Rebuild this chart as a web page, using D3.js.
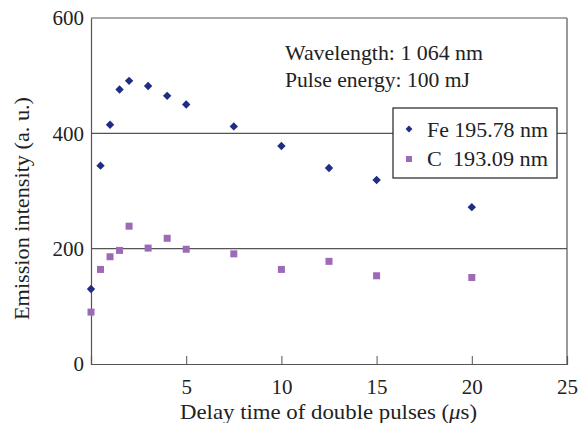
<!DOCTYPE html>
<html>
<head>
<meta charset="utf-8">
<script src="https://cdn.jsdelivr.net/npm/d3@7"></script>
<style>
  body { margin: 0; background: #fff; }
</style>
</head>
<body>
<div class="container"></div>
<script>
// chart data
const delays = [0, 0.5, 1, 1.5, 2, 3, 4, 5, 7.5, 10, 12.5, 15, 20];
const feValues = [130, 344, 415, 476, 491, 482, 465, 450, 412, 378, 340, 319, 272];
const cValues = [90, 164, 186, 197, 239, 201, 218, 199, 191, 164, 178, 153, 150];
const xTicks = [5, 10, 15, 20, 25];
const yTicks = [0, 200, 400, 600];
const seriesNames = ["Fe 195.78 nm", "C\u00a0\u00a0193.09 nm"];

const width = 580;
const height = 423;
const margin = { top: 18, right: 13, bottom: 59, left: 91 };
const serif = '"Liberation Serif"';
const ink = "#222";

const svg = d3.select(".container")
  .append("svg")
  .attr("width", width)
  .attr("height", height);

const xScale = d3.scaleLinear()
  .domain([0, 25])
  .range([margin.left, width - margin.right]);

const yScale = d3.scaleLinear()
  .domain([0, 600])
  .range([height - margin.bottom, margin.top]);

// grid lines at 200, 400, 600
svg.append("g")
  .selectAll("line")
  .data(yTicks.filter(d => d > 0))
  .join("line")
  .attr("x1", xScale(0))
  .attr("x2", xScale(25))
  .attr("y1", d => yScale(d))
  .attr("y2", d => yScale(d))
  .attr("stroke", "#555")
  .attr("stroke-width", 1.2);

// right border
svg.append("line")
  .attr("x1", xScale(25)).attr("x2", xScale(25))
  .attr("y1", yScale(600)).attr("y2", yScale(0))
  .attr("stroke", "#555")
  .attr("stroke-width", 1.2);

// x axis, ticks pointing up into the plot
const xAxis = svg.append("g")
  .attr("transform", `translate(0, ${yScale(0)})`)
  .call(d3.axisBottom(xScale).tickValues(xTicks).tickSize(-8).tickPadding(15));
xAxis.attr("font-family", null).attr("font-size", null);
xAxis.select(".domain").attr("stroke", "#555").attr("stroke-width", 1.2);
xAxis.selectAll(".tick line").attr("stroke", "#555");
xAxis.selectAll(".tick text")
  .style("font-family", serif)
  .style("font-size", "21px")
  .attr("fill", ink);

// y axis, labels only
const yAxis = svg.append("g")
  .attr("transform", `translate(${xScale(0)}, 0)`)
  .call(d3.axisLeft(yScale).tickValues(yTicks).tickSize(0).tickPadding(7));
yAxis.attr("font-family", null).attr("font-size", null);
yAxis.select(".domain").attr("stroke", "#555").attr("stroke-width", 1.2);
yAxis.selectAll(".tick text")
  .style("font-family", serif)
  .style("font-size", "21px")
  .attr("fill", ink);

// helper for plain text
function label(x, y, str, len) {
  const t = svg.append("text")
    .attr("x", x).attr("y", y)
    .style("font-family", serif)
    .style("font-size", "21px")
    .attr("fill", ink)
    .text(str);
  if (len) t.attr("textLength", len).attr("lengthAdjust", "spacingAndGlyphs");
  return t;
}

// axis titles
const xTitle = svg.append("text")
  .attr("x", 180).attr("y", 419)
  .attr("textLength", 297).attr("lengthAdjust", "spacingAndGlyphs")
  .style("font-family", serif)
  .style("font-size", "21px")
  .attr("fill", ink);
xTitle.append("tspan").text("Delay time of double pulses (");
xTitle.append("tspan").style("font-style", "italic").text("\u03bc");
xTitle.append("tspan").text("s)");

svg.append("text")
  .attr("transform", "translate(29, 320) rotate(-90)")
  .attr("textLength", 223).attr("lengthAdjust", "spacingAndGlyphs")
  .style("font-family", serif)
  .style("font-size", "21px")
  .attr("fill", ink)
  .text("Emission intensity (a. u.)");

// annotation
label(285, 60, "Wavelength: 1 064 nm", 198);
label(285, 87, "Pulse energy: 100 mJ", 185);

// points
const feColor = "#1f2d86";
const cColor = "#9c6ab6";
const diamond = d3.symbol().type(d3.symbolDiamond2).size(45);

svg.append("g")
  .selectAll("path")
  .data(delays)
  .join("path")
  .attr("transform", (d, i) => `translate(${xScale(d)}, ${yScale(feValues[i])})`)
  .attr("d", diamond)
  .attr("fill", feColor);

svg.append("g")
  .selectAll("rect")
  .data(delays)
  .join("rect")
  .attr("x", d => xScale(d) - 3.5)
  .attr("y", (d, i) => yScale(cValues[i]) - 3.5)
  .attr("width", 7)
  .attr("height", 7)
  .attr("fill", cColor);

// legend
const legend = svg.append("g").attr("transform", "translate(393, 108)");
legend.append("rect")
  .attr("width", 164).attr("height", 70)
  .attr("fill", "#fff")
  .attr("stroke", ink)
  .attr("stroke-width", 1.2);
legend.append("path")
  .attr("transform", "translate(16, 21)")
  .attr("d", d3.symbol().type(d3.symbolDiamond2).size(30))
  .attr("fill", feColor);
legend.append("rect")
  .attr("x", 13).attr("y", 48).attr("width", 6).attr("height", 6)
  .attr("fill", cColor);
legend.selectAll("text.lbl")
  .data(seriesNames)
  .join("text")
  .attr("class", "lbl")
  .attr("x", 34)
  .attr("y", (d, i) => 29 + i * 29)
  .attr("textLength", 121).attr("lengthAdjust", "spacingAndGlyphs")
  .style("font-family", serif)
  .style("font-size", "21px")
  .attr("fill", ink)
  .text(d => d);
</script>
</body>
</html>
